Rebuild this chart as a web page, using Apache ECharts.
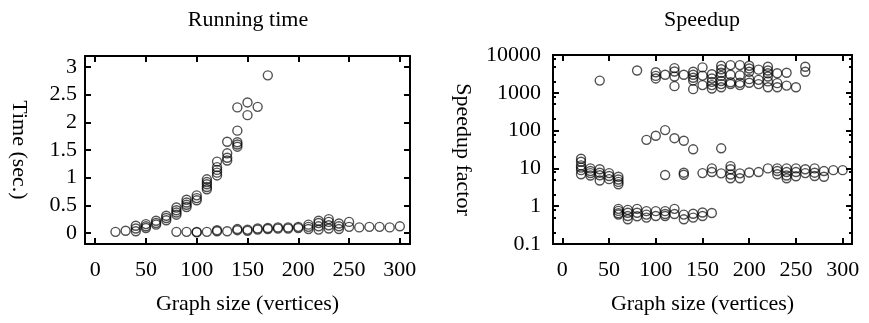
<!DOCTYPE html>
<html><head><meta charset="utf-8">
<script src="https://cdn.jsdelivr.net/npm/echarts@6/dist/echarts.min.js"></script>
<style>html,body{margin:0;padding:0;background:#fff}#c{width:869px;height:323px}</style>
</head><body><div id="c"></div>
<script>
// ---------- data ----------
const chartTitles = ['Running time', 'Speedup'];
const xAxisName = 'Graph size (vertices)';
const timeAxisName = 'Time (sec.)';
const speedAxisName = 'Speedup factor';
const xTicks = [0, 50, 100, 150, 200, 250, 300];
const timeTicks = [0, 0.5, 1, 1.5, 2, 2.5, 3];
const speedTicks = [0.1, 1, 10, 100, 1000, 10000];
const speedMinorTicks = [0.2,0.5,0.8, 2,5,8, 20,50,80, 200,500,800, 2000,5000,8000];

// running time, growing group [size, seconds]
const timeGrowing = [
  [20,0.02],[30,0.04],[40,0.13],[40,0.08],[40,0.03],[50,0.16],[50,0.12],[50,0.09],
  [60,0.22],[60,0.18],[60,0.15],[70,0.31],[70,0.27],[70,0.23],
  [80,0.46],[80,0.41],[80,0.37],[80,0.33],[90,0.6],[90,0.55],[90,0.51],[90,0.47],
  [100,0.68],[100,0.63],[100,0.59],[110,0.97],[110,0.92],[110,0.88],[110,0.83],[110,0.79],
  [120,1.29],[120,1.19],[120,1.14],[120,1.09],[120,1.04],
  [130,1.65],[130,1.44],[130,1.36],[130,1.31],
  [140,2.27],[140,1.85],[140,1.64],[140,1.6],[140,1.56],
  [150,2.36],[150,2.13],[160,2.28],[170,2.85]
];
// running time, flat group [size, seconds]
const timeFlat = [
  [80,0.02],[90,0.02],[100,0.01],[100,0.02],[110,0.02],[120,0.03],[120,0.05],[130,0.03],
  [140,0.05],[140,0.07],[150,0.04],[150,0.06],[160,0.06],[160,0.08],[170,0.07],[170,0.09],
  [180,0.08],[180,0.1],[190,0.08],[190,0.1],[200,0.09],[200,0.11],
  [210,0.07],[210,0.11],[210,0.15],[220,0.06],[220,0.12],[220,0.18],[220,0.22],
  [230,0.08],[230,0.14],[230,0.2],[230,0.25],[240,0.07],[240,0.12],[240,0.17],
  [250,0.11],[250,0.2],[260,0.1],[270,0.11],[280,0.11],[290,0.1],[300,0.12]
];
// speedup, top group [size, factor]
const speedTop = [
  [40,2100],[80,3900],[100,3500],[100,2800],[100,2400],[110,3000],
  [120,4500],[120,3650],[120,2700],[120,1500],[130,3000],
  [140,3600],[140,3000],[140,2500],[140,2100],[140,1250],[150,4700],[150,2850],[150,1600],
  [160,3100],[160,2400],[160,1950],[160,1600],[160,1300],
  [170,5200],[170,4200],[170,3400],[170,2800],[170,2050],[170,1700],[170,1400],
  [180,5400],[180,3000],[180,1900],[180,1700],[190,5400],[190,2900],[190,1850],[190,1600],
  [200,5200],[200,4400],[200,3600],[200,2300],[200,1850],[210,4100],[210,2200],[210,1700],
  [220,4900],[220,3900],[220,3300],[220,2700],[220,2000],[220,1400],
  [230,3300],[230,1800],[230,1400],[240,3400],[240,1550],[250,1400],[260,4900],[260,3600]
];
// speedup, peak group
const speedPeak = [[90,57],[100,73],[110,103],[120,63],[130,54],[140,32],[170,34]];
// speedup, ~10 group
const speedMid = [
  [20,18],[20,15],[20,12],[20,10.5],[20,9],[20,7],[30,10],[30,8.5],[30,7.5],[30,6.5],
  [40,9.5],[40,7.7],[40,6.6],[40,4.8],[50,7.5],[50,6.3],[50,5.2],
  [60,6],[60,5.1],[60,4.4],[60,3.8],[110,6.7],[130,7.7],[130,6.8],[150,7.5],
  [160,10],[160,8],[170,7.4],[180,11.5],[180,9.5],[180,6.9],[180,5.5],[190,7.4],[190,5.5],
  [200,7.8],[210,8],[220,10],[230,10],[230,8.5],[230,7],[240,10],[240,8],[240,6.5],[240,5.5],
  [250,10],[250,8],[250,6.2],[260,9.5],[260,7.5],[270,10],[270,7.7],[270,6.3],
  [280,8.5],[280,6],[290,9],[300,9]
];
// speedup, low group
const speedLow = [
  [60,0.85],[60,0.75],[60,0.65],[60,0.6],[70,0.8],[70,0.67],[70,0.55],[70,0.45],
  [80,0.85],[80,0.67],[80,0.54],[90,0.74],[90,0.6],[90,0.5],[100,0.74],[100,0.55],
  [110,0.74],[110,0.62],[110,0.55],[120,0.85],[120,0.62],[130,0.6],[130,0.45],
  [140,0.63],[140,0.5],[150,0.68],[150,0.55],[160,0.66]
];

// ---------- chart ----------
const FONT = '"Liberation Serif", "DejaVu Serif", serif';
const FS = 22;
const LINE = {color:'#000', width:2};

function axisBase(o) {
  return Object.assign({
    axisLine: {show:true, onZero:false, lineStyle:LINE},
    splitLine: {show:false},
    nameTextStyle: {fontFamily:FONT, fontSize:FS, color:'#000'}
  }, o);
}
function ticks(vals, len, showLabel, margin) {
  return {
    axisTick: {show:true, inside:true, length:len, lineStyle:LINE, customValues:vals},
    axisLabel: showLabel ? {show:true, customValues:vals, margin:margin, fontFamily:FONT, fontSize:FS, color:'#000',
      formatter: v => String(+(+v).toPrecision(6))} : {show:false}
  };
}

const xAxes = [], yAxes = [];
for (let g = 0; g < 2; g++) {
  xAxes.push(axisBase(Object.assign({type:'value', gridIndex:g, min:-10, max:310, position:'bottom',
    name:xAxisName, nameLocation:'middle', nameGap:49}, ticks(xTicks, 6, true, 15))));
  xAxes.push(axisBase(Object.assign({type:'value', gridIndex:g, min:-10, max:310, position:'top'}, ticks(xTicks, 6, false))));
}
// left grid y
yAxes.push(axisBase(Object.assign({type:'value', gridIndex:0, min:-0.2, max:3.2, position:'left',
  name:timeAxisName, nameLocation:'middle', nameGap:55, nameRotate:-90}, ticks(timeTicks, 6, true, 8))));
yAxes.push(axisBase(Object.assign({type:'value', gridIndex:0, min:-0.2, max:3.2, position:'right'}, ticks(timeTicks, 6, false))));
// right grid y (log)
yAxes.push(axisBase(Object.assign({type:'log', logBase:10, gridIndex:1, min:0.1, max:10000, position:'left',
  name:speedAxisName, nameLocation:'middle', nameGap:79, nameRotate:-90}, ticks(speedTicks, 6, true, 12))));
yAxes.push(axisBase(Object.assign({type:'log', logBase:10, gridIndex:1, min:0.1, max:10000, position:'right'}, ticks(speedTicks, 6, false))));
yAxes.push(axisBase(Object.assign({type:'log', logBase:10, gridIndex:1, min:0.1, max:10000, position:'left'}, ticks(speedMinorTicks, 3, false))));
yAxes.push(axisBase(Object.assign({type:'log', logBase:10, gridIndex:1, min:0.1, max:10000, position:'right'}, ticks(speedMinorTicks, 3, false))));

function sc(data, xi, yi) {
  return {type:'scatter', data:data, xAxisIndex:xi, yAxisIndex:yi, symbol:'circle', symbolSize:9,
    itemStyle:{color:'rgba(0,0,0,0)', borderColor:'rgba(0,0,0,0.85)', borderWidth:1.4}, silent:true, animation:false};
}

const option = {
  backgroundColor:'#fff',
  animation:false,
  grid: [
    {left:85, top:56, width:325, height:188},
    {left:553, top:55, width:299, height:189}
  ],
  xAxis: xAxes,
  yAxis: yAxes,
  graphic: [
    {type:'text', x:248, y:20, style:{text:chartTitles[0], font:FS+'px '+FONT, fill:'#000', textAlign:'center', textVerticalAlign:'middle'}},
    {type:'text', x:702, y:20, style:{text:chartTitles[1], font:FS+'px '+FONT, fill:'#000', textAlign:'center', textVerticalAlign:'middle'}}
  ],
  series: [
    sc(timeGrowing, 0, 0), sc(timeFlat, 0, 0),
    sc(speedTop, 2, 2), sc(speedPeak, 2, 2), sc(speedMid, 2, 2), sc(speedLow, 2, 2)
  ]
};
const chart = echarts.init(document.getElementById('c'), null, {renderer:'canvas'});
chart.setOption(option);
</script></body></html>
